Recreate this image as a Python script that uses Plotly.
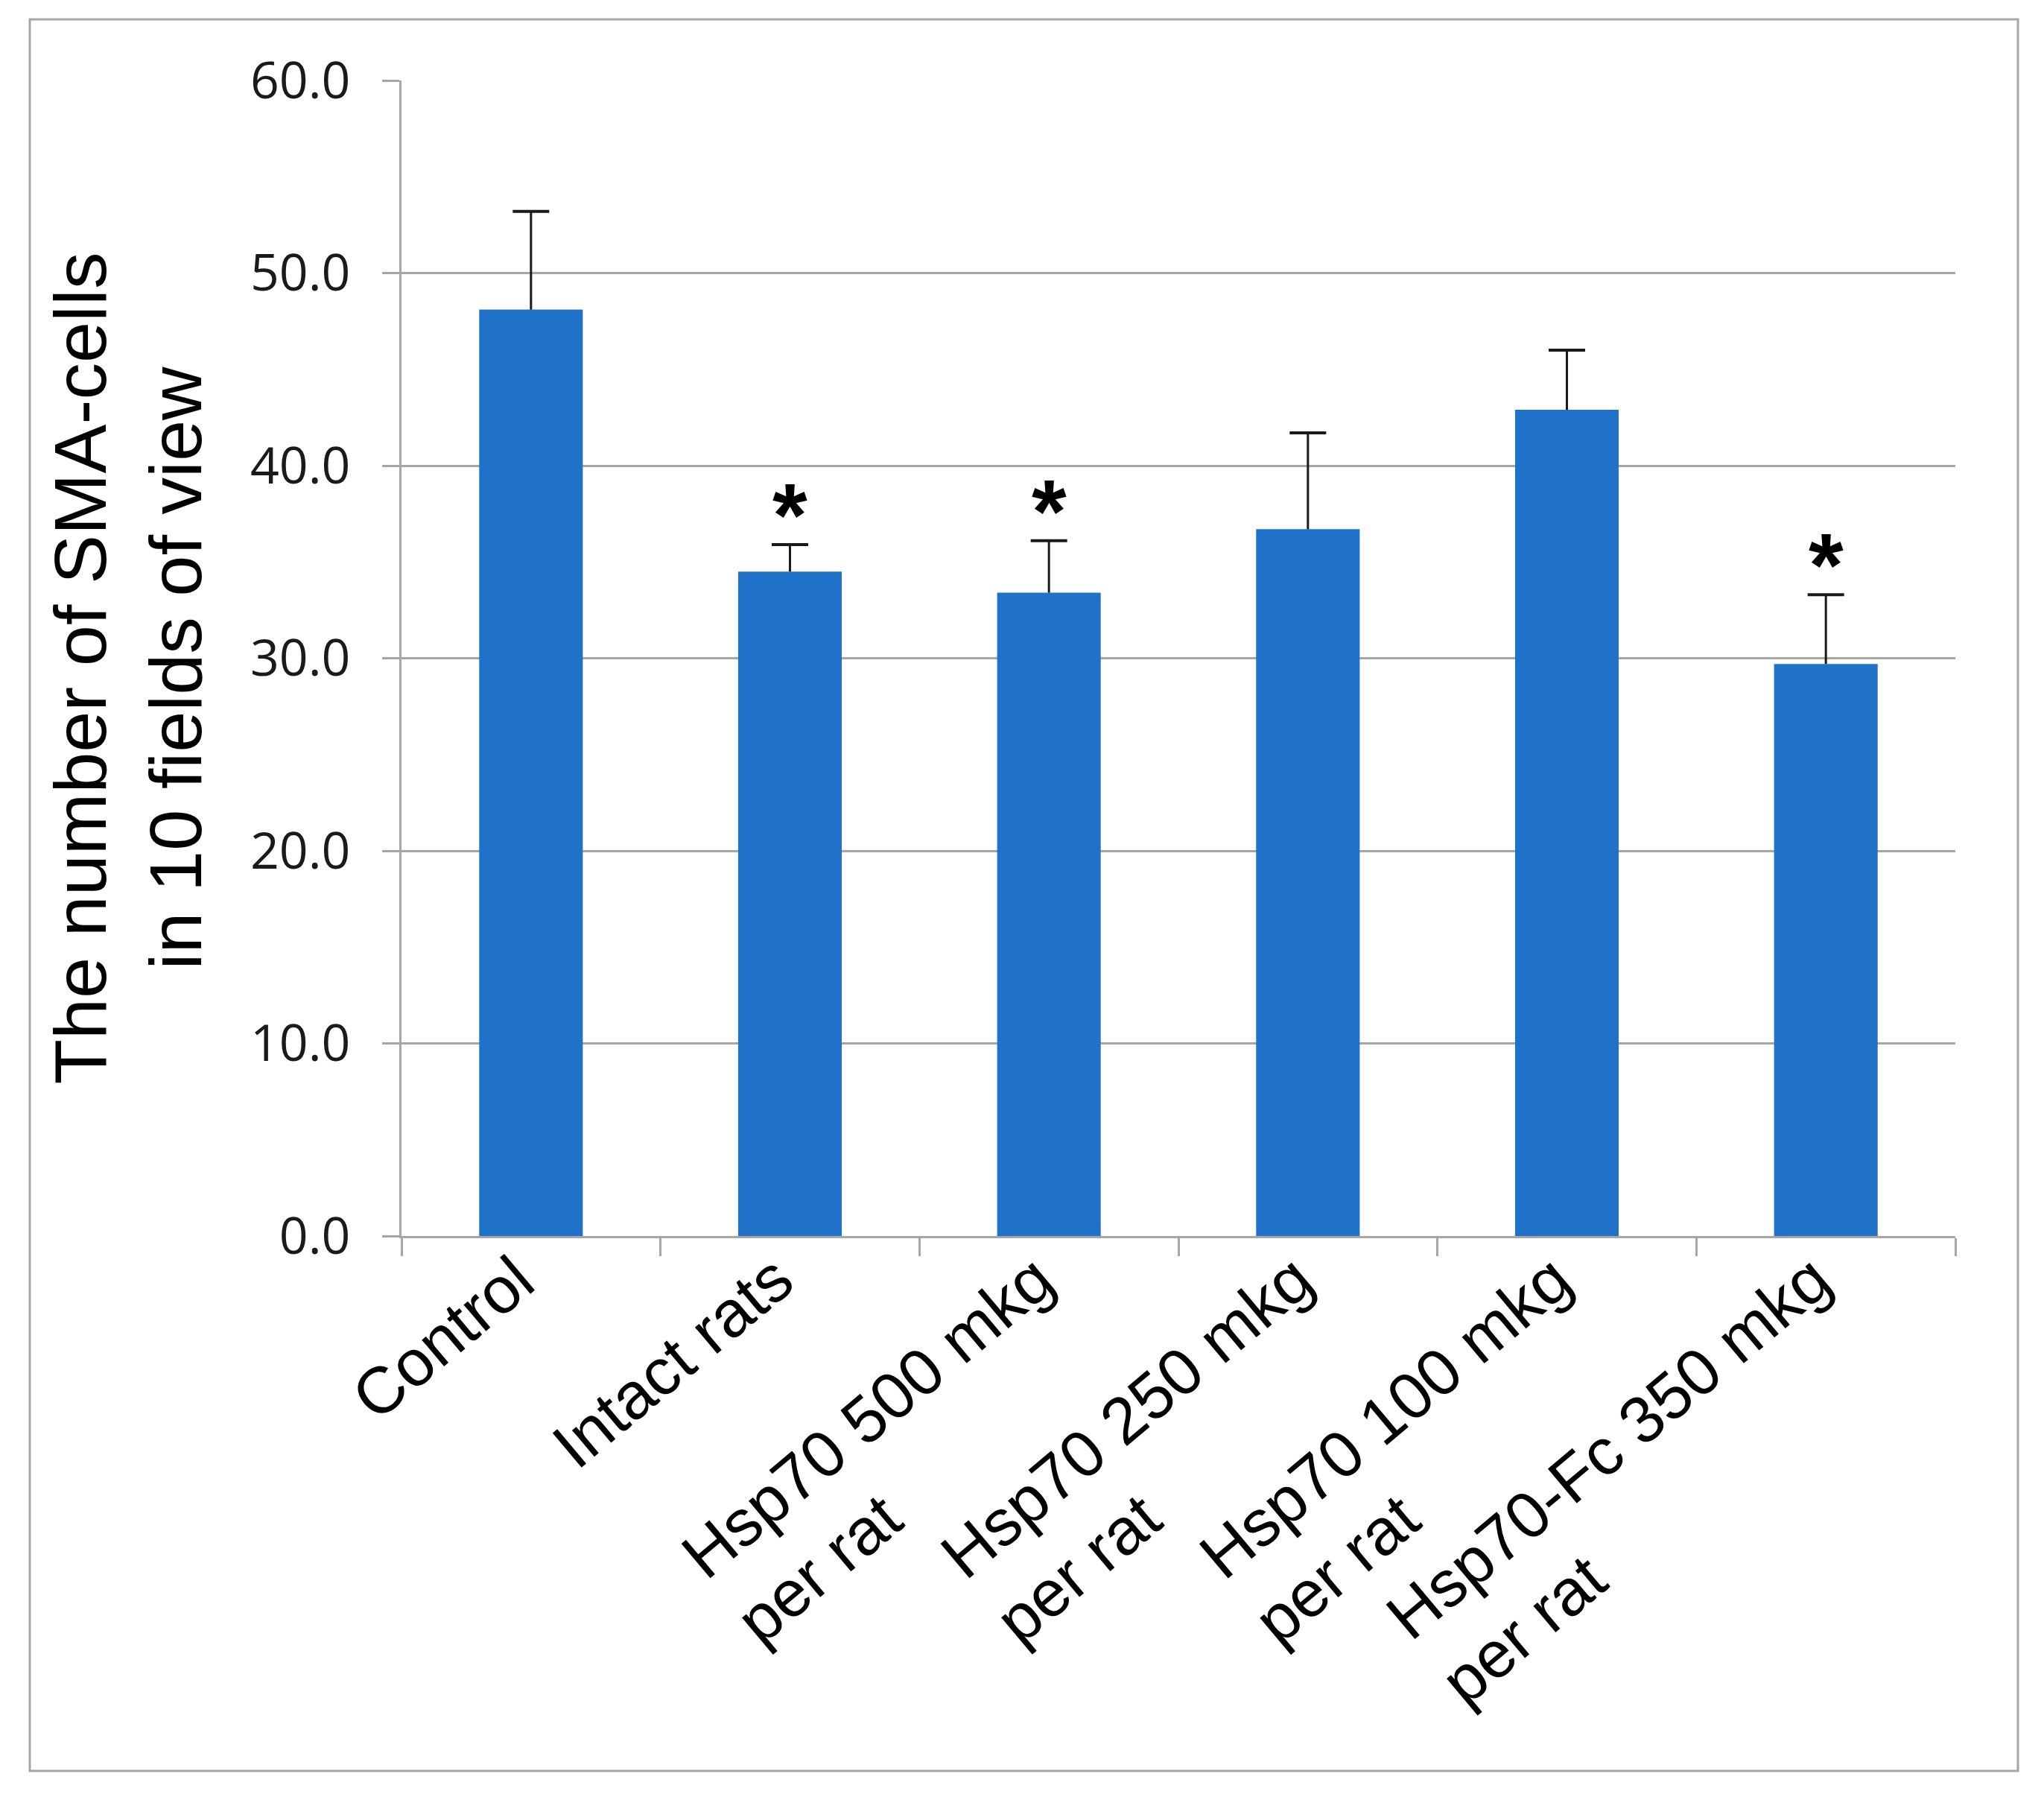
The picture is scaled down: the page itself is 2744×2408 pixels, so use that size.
import plotly.graph_objects as go

# ---- data ----
categories = [
    "Control",
    "Intact rats",
    "Hsp70 500 mkg<br>per rat",
    "Hsp70 250 mkg<br>per rat",
    "Hsp70 100 mkg<br>per rat",
    "Hsp70-Fc 350 mkg<br>per rat",
]
means = [48.1, 34.5, 33.4, 36.7, 42.9, 29.7]
errors = [5.1, 1.4, 2.7, 5.0, 3.1, 3.6]
significant = [False, True, True, False, False, True]
y_ticks = [0, 10, 20, 30, 40, 50, 60]
y_title = "The number of SMA-cells<br>in 10 fields of view"

# ---- style / layout ----
PAGE_OFF = 8                     # default body margin of the html page
W, H = 2728, 2392
ML, MR, MT, MB = 531, 111, 100, 741
PW, PH = W - ML - MR, H - MT - MB
BAR = "#1F72C8"
GRID = "#A6A6A6"
ERR = "#1a1a1a"
TXT_FONT = "Liberation Sans"
TICK_FS = 88
ANGLE = 40


def page_x(px):
    return (px - PAGE_OFF - ML) / PW


def page_y(py):
    return (PAGE_OFF + H - MB - py) / PH


fig = go.Figure()
fig.add_trace(go.Bar(
    x=categories,
    y=means,
    marker=dict(color=BAR, line=dict(width=0)),
    showlegend=False,
    hoverinfo="skip",
))

# upper error bars (stem + cap), no cap at the bar top
stem_x, stem_y = [], []
for c, m, e in zip(categories, means, errors):
    stem_x += [c, c, None]
    stem_y += [m, m + e, None]
fig.add_trace(go.Scatter(
    x=stem_x, y=stem_y, mode="lines",
    line=dict(color=ERR, width=3), showlegend=False, hoverinfo="skip",
))
fig.add_trace(go.Scatter(
    x=categories, y=[m + e for m, e in zip(means, errors)], mode="markers",
    marker=dict(symbol="line-ew", size=35, line=dict(color=ERR, width=4)),
    showlegend=False, hoverinfo="skip",
))

annotations = []
# rotated category labels (lines left-aligned, first line ends at the category)
for cat in categories:
    nlines = cat.count("<br>") + 1
    annotations.append(dict(
        x=cat, y=0, xref="x", yref="y", text=cat, showarrow=False,
        textangle=-ANGLE, xanchor="right", yanchor="top", align="left",
        xshift=25 + 75 * (nlines - 1), yshift=-4,
        font=dict(family=TXT_FONT, size=TICK_FS, color="#000000"),
    ))

# significance asterisks
for cat, m, e, s in zip(categories, means, errors, significant):
    if s:
        annotations.append(dict(
            x=cat, y=m + e, xref="x", yref="y", text="<b>*</b>",
            showarrow=False, xanchor="center", yanchor="middle", yshift=40,
            font=dict(family=TXT_FONT, size=120, color="#000000"),
        ))

# y-axis title
annotations.append(dict(
    x=page_x(172), y=0.491, xref="paper", yref="paper",
    text=y_title, showarrow=False, textangle=-90,
    xanchor="center", yanchor="middle", align="center",
    font=dict(family=TXT_FONT, size=99, color="#000000"),
))

fig.update_layout(
    width=W, height=H,
    margin=dict(l=ML, r=MR, t=MT, b=MB, autoexpand=False),
    paper_bgcolor="white", plot_bgcolor="white",
    bargap=0.6,
    annotations=annotations,
    shapes=[dict(
        type="rect", xref="paper", yref="paper",
        x0=page_x(40), x1=page_x(2709),
        y0=page_y(2377), y1=page_y(26),
        line=dict(color=GRID, width=3), fillcolor="rgba(0,0,0,0)",
        layer="below",
    )],
    xaxis=dict(
        type="category", range=[-0.5, len(categories) - 0.5],
        showticklabels=False, ticks="outside",
        tickson="boundaries", ticklen=24, tickwidth=3, tickcolor=GRID,
        showline=True, linecolor=GRID, linewidth=3, showgrid=False,
        zeroline=False, automargin=False,
    ),
    yaxis=dict(
        range=[0, 60], tickvals=y_ticks, tickformat=".1f",
        ticks="outside", ticklen=23, tickwidth=3, tickcolor=GRID,
        showline=True, linecolor=GRID, linewidth=3,
        showgrid=True, gridcolor=GRID, gridwidth=3, zeroline=False,
        tickfont=dict(family="Open Sans", size=68, color="#1a1a1a"),
        ticklabelstandoff=29, automargin=False,
    ),
)

fig.write_html("out.html")
